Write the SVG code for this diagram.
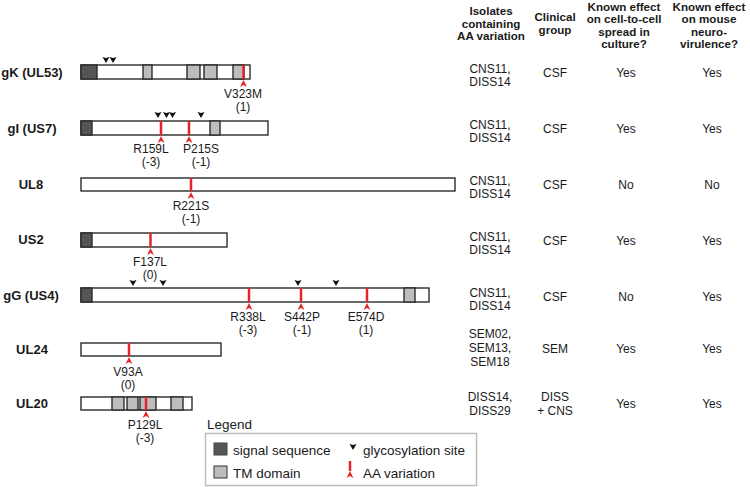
<svg xmlns="http://www.w3.org/2000/svg" width="750" height="487" viewBox="0 0 750 487">
<style>
text{font-family:"Liberation Sans",Arial,sans-serif;fill:#1a1a1a}
.lab{font-size:13px;font-weight:bold;text-anchor:middle}
.mut{font-size:12px;text-anchor:middle}
.hd{font-size:11.6px;font-weight:bold;text-anchor:middle}
.td{font-size:12px;text-anchor:middle}
.lg{font-size:13.5px}
.bar{fill:#fff;stroke:#2b2b2b;stroke-width:1.4}
.sig{fill:#555;stroke:#2b2b2b;stroke-width:1.4}
.tm{fill:#bdbdbd;stroke:#2b2b2b;stroke-width:1.4}
.aa{stroke:#e3262b;stroke-width:2.5}
</style>
<defs>
<path id="gly" d="M-3.5,-6 L0,-5 L3.5,-6 L0,0 Z" fill="#111"/>
<path id="arr" d="M0,0 L3.5,7 L0,5 L-3.5,7 Z" fill="#e3262b"/>
</defs>

<g id="gK">
<text class="lab" x="32" y="77">gK (UL53)</text>
<rect class="bar" x="81" y="65" width="169" height="14"/>
<rect class="sig" x="81" y="65" width="16" height="14"/>
<rect class="tm" x="143" y="65" width="9" height="14"/>
<rect class="tm" x="187" y="65" width="13" height="14"/>
<rect class="tm" x="204" y="65" width="13" height="14"/>
<rect class="tm" x="233" y="65" width="11" height="14"/>
<line class="aa" x1="243.5" y1="65" x2="243.5" y2="79"/>
<use href="#gly" x="106" y="63"/><use href="#gly" x="113" y="63"/>
<use href="#arr" x="243.5" y="80"/>
<text class="mut" x="243" y="98">V323M</text>
<text class="mut" x="243" y="111">(1)</text>
</g>

<g id="gI">
<text class="lab" x="32" y="133">gI (US7)</text>
<rect class="bar" x="81" y="121" width="187" height="14"/>
<rect class="sig" x="81" y="121" width="11" height="14"/>
<rect class="tm" x="210" y="121" width="10" height="14"/>
<line class="aa" x1="161" y1="121" x2="161" y2="135"/>
<line class="aa" x1="189" y1="121" x2="189" y2="135"/>
<use href="#gly" x="158" y="118"/><use href="#gly" x="166.5" y="118"/><use href="#gly" x="172.5" y="118"/><use href="#gly" x="201" y="118"/>
<use href="#arr" x="161" y="136"/><use href="#arr" x="189" y="136"/>
<text class="mut" x="151" y="153">R159L</text>
<text class="mut" x="151" y="166">(-3)</text>
<text class="mut" x="201" y="153">P215S</text>
<text class="mut" x="201" y="166">(-1)</text>
</g>

<g id="UL8">
<text class="lab" x="31" y="189">UL8</text>
<rect class="bar" x="81" y="178" width="374" height="13"/>
<line class="aa" x1="191" y1="178" x2="191" y2="191"/>
<use href="#arr" x="191" y="192"/>
<text class="mut" x="191" y="210">R221S</text>
<text class="mut" x="191" y="223">(-1)</text>
</g>

<g id="US2">
<text class="lab" x="31" y="244">US2</text>
<rect class="bar" x="81" y="233" width="146" height="14"/>
<rect class="sig" x="81" y="233" width="11" height="14"/>
<line class="aa" x1="150.5" y1="233" x2="150.5" y2="247"/>
<use href="#arr" x="150.5" y="248"/>
<text class="mut" x="150" y="266">F137L</text>
<text class="mut" x="150" y="279">(0)</text>
</g>

<g id="gG">
<text class="lab" x="31" y="300">gG (US4)</text>
<rect class="bar" x="81" y="288" width="348" height="14"/>
<rect class="sig" x="81" y="288" width="11" height="14"/>
<rect class="tm" x="404" y="288" width="11" height="14"/>
<line class="aa" x1="249" y1="288" x2="249" y2="302"/>
<line class="aa" x1="301" y1="288" x2="301" y2="302"/>
<line class="aa" x1="367" y1="288" x2="367" y2="302"/>
<use href="#gly" x="133" y="286"/><use href="#gly" x="163" y="286"/><use href="#gly" x="298" y="286"/><use href="#gly" x="336" y="286"/>
<use href="#arr" x="249" y="303"/><use href="#arr" x="301" y="303"/><use href="#arr" x="367" y="303"/>
<text class="mut" x="248" y="321">R338L</text>
<text class="mut" x="248" y="334">(-3)</text>
<text class="mut" x="302" y="321">S442P</text>
<text class="mut" x="302" y="334">(-1)</text>
<text class="mut" x="366" y="321">E574D</text>
<text class="mut" x="366" y="334">(1)</text>
</g>

<g id="UL24">
<text class="lab" x="32" y="354">UL24</text>
<rect class="bar" x="81" y="343" width="140" height="13"/>
<line class="aa" x1="129" y1="343" x2="129" y2="356"/>
<use href="#arr" x="129" y="357"/>
<text class="mut" x="128" y="376">V93A</text>
<text class="mut" x="128" y="389">(0)</text>
</g>

<g id="UL20">
<text class="lab" x="32" y="408">UL20</text>
<rect class="bar" x="81" y="397" width="111" height="13"/>
<rect class="tm" x="112" y="397" width="12" height="13"/>
<rect class="tm" x="127" y="397" width="11" height="13"/>
<rect class="tm" x="140" y="397" width="16" height="13"/>
<rect class="tm" x="171" y="397" width="12" height="13"/>
<line class="aa" x1="146" y1="397" x2="146" y2="410"/>
<use href="#arr" x="146" y="411"/>
<text class="mut" x="145" y="429">P129L</text>
<text class="mut" x="145" y="442">(-3)</text>
</g>

<g id="legend">
<text class="lg" x="207" y="429">Legend</text>
<rect x="205.5" y="433.5" width="271" height="52" fill="#fff" stroke="#bdbdbd" stroke-width="1.5"/>
<rect x="214" y="443" width="13" height="12" fill="#555" stroke="#444" stroke-width="1"/>
<text class="lg" x="233" y="455">signal sequence</text>
<rect x="214" y="466" width="13" height="12" fill="#bdbdbd" stroke="#333" stroke-width="1"/>
<text class="lg" x="233" y="478">TM domain</text>
<use href="#gly" x="353" y="450"/>
<text class="lg" x="363" y="455">glycosylation site</text>
<line class="aa" x1="350" y1="461" x2="350" y2="471"/>
<use href="#arr" x="350" y="471"/>
<text class="lg" x="363" y="478">AA variation</text>
</g>

<g id="table-header">
<text class="hd" x="491" y="15">Isolates</text>
<text class="hd" x="491" y="27.5">containing</text>
<text class="hd" x="491" y="40">AA variation</text>
<text class="hd" x="555" y="21">Clinical</text>
<text class="hd" x="555" y="33.5">group</text>
<text class="hd" x="624" y="10.5">Known effect</text>
<text class="hd" x="624" y="23">on cell-to-cell</text>
<text class="hd" x="624" y="35.5">spread in</text>
<text class="hd" x="624" y="48">culture?</text>
<text class="hd" x="709" y="10.5">Known effect</text>
<text class="hd" x="709" y="23">on mouse</text>
<text class="hd" x="709" y="35.5">neuro-</text>
<text class="hd" x="709" y="48">virulence?</text>
</g>

<g id="row-gK">
<text class="td" x="490" y="73">CNS11,</text><text class="td" x="490" y="86">DISS14</text>
<text class="td" x="555" y="77">CSF</text><text class="td" x="626" y="77">Yes</text><text class="td" x="712" y="77">Yes</text>
</g>
<g id="row-gI">
<text class="td" x="490" y="129">CNS11,</text><text class="td" x="490" y="142">DISS14</text>
<text class="td" x="555" y="133">CSF</text><text class="td" x="626" y="133">Yes</text><text class="td" x="712" y="133">Yes</text>
</g>
<g id="row-UL8">
<text class="td" x="490" y="185">CNS11,</text><text class="td" x="490" y="198">DISS14</text>
<text class="td" x="555" y="189">CSF</text><text class="td" x="626" y="189">No</text><text class="td" x="712" y="189">No</text>
</g>
<g id="row-US2">
<text class="td" x="490" y="241">CNS11,</text><text class="td" x="490" y="254">DISS14</text>
<text class="td" x="555" y="245">CSF</text><text class="td" x="626" y="245">Yes</text><text class="td" x="712" y="245">Yes</text>
</g>
<g id="row-gG">
<text class="td" x="490" y="297">CNS11,</text><text class="td" x="490" y="310">DISS14</text>
<text class="td" x="555" y="301">CSF</text><text class="td" x="626" y="301">No</text><text class="td" x="712" y="301">Yes</text>
</g>
<g id="row-UL24">
<text class="td" x="490" y="338">SEM02,</text><text class="td" x="490" y="352">SEM13,</text><text class="td" x="490" y="366">SEM18</text>
<text class="td" x="555" y="353">SEM</text><text class="td" x="626" y="353">Yes</text><text class="td" x="712" y="353">Yes</text>
</g>
<g id="row-UL20">
<text class="td" x="490" y="401">DISS14,</text><text class="td" x="490" y="415">DISS29</text>
<text class="td" x="555" y="401">DISS</text><text class="td" x="555" y="415">+ CNS</text>
<text class="td" x="626" y="408">Yes</text><text class="td" x="712" y="408">Yes</text>
</g>
</svg>
